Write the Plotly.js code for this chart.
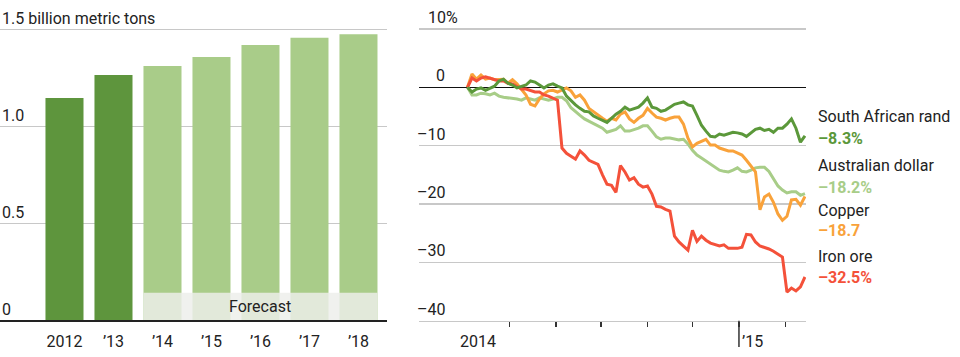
<!DOCTYPE html>
<html><head><meta charset="utf-8">
<script src="https://cdn.plot.ly/plotly-3.0.1.min.js"></script>
<style>html,body{margin:0;padding:0;background:#fff}#chart{width:960px;height:357px}</style>
</head><body><div id="chart"></div>
<script>
// ---- Left chart: iron ore production ----
const years = ['2012','’13','’14','’15','’16','’17','’18'];
const production = [1.144, 1.263, 1.309, 1.356, 1.418, 1.455, 1.473];
const isForecast = [false, false, true, true, true, true, true];
const prodTickVals = [0, 0.5, 1, 1.5];
const prodTickText = ['0', '0.5', '1.0', '1.5 billion metric tons'];
const forecastLabel = 'Forecast';

// ---- Right chart: % change ----
const dates = [
 '2014-07-04','2014-07-07','2014-07-10','2014-07-13','2014-07-16','2014-07-19','2014-07-22','2014-07-25','2014-07-28','2014-07-31',
 '2014-08-03','2014-08-06','2014-08-09','2014-08-12','2014-08-15','2014-08-18','2014-08-21','2014-08-24','2014-08-27','2014-08-30',
 '2014-09-02','2014-09-05','2014-09-08','2014-09-11','2014-09-14','2014-09-17','2014-09-20','2014-09-23','2014-09-26','2014-09-29',
 '2014-10-02','2014-10-05','2014-10-08','2014-10-11','2014-10-14','2014-10-17','2014-10-20','2014-10-23','2014-10-26','2014-10-29',
 '2014-11-01','2014-11-04','2014-11-07','2014-11-10','2014-11-13','2014-11-16','2014-11-19','2014-11-22','2014-11-25','2014-11-28',
 '2014-12-01','2014-12-04','2014-12-07','2014-12-10','2014-12-13','2014-12-16','2014-12-19','2014-12-22','2014-12-25','2014-12-28','2014-12-31',
 '2015-01-03','2015-01-06','2015-01-09','2015-01-12','2015-01-15','2015-01-18','2015-01-21','2015-01-24','2015-01-27','2015-01-30',
 '2015-02-02','2015-02-05','2015-02-08','2015-02-11','2015-02-14'
];
const randChg = [
 0, -0.8, -0.3, -0.1, -0.5, -0.1, 0.2, 1.1, 1.4, 0.7,
 0.4, -0.1, 0.1, 0.4, 1.1, 0.9, 0.4, -0.1, 0.4, 0.6,
 0.2, -0.1, -1.5, -2.3, -3.0, -3.6, -4.1, -4.2, -4.9, -5.3,
 -5.6, -6.0, -5.3, -4.6, -4.1, -3.4, -3.9, -3.7, -3.4, -2.7,
 -1.8, -3.4, -3.6, -4.1, -3.9, -3.4, -2.9, -2.7, -2.5, -3.0,
 -3.2, -4.8, -6.5, -7.5, -8.4, -8.5, -8.0, -8.2, -8.0, -7.7, -7.8,
 -8.0, -8.4, -7.8, -7.2, -7.0, -7.4, -7.2, -7.7, -7.0, -7.0,
 -6.3, -5.4, -7.0, -9.4, -8.3
];
const audChg = [
 0, -1.3, -1.3, -1.0, -1.1, -1.3, -1.0, -1.5, -1.7, -1.8,
 -1.8, -2.0, -2.2, -1.8, -2.0, -2.2, -1.8, -2.0, -2.2, -2.0,
 -1.7, -1.7, -2.3, -3.5, -4.2, -4.8, -5.4, -5.8, -6.3, -6.6,
 -7.0, -7.7, -7.5, -7.2, -6.6, -7.5, -7.5, -7.3, -7.0, -6.6,
 -6.6, -7.5, -8.5, -8.9, -8.7, -8.7, -8.9, -9.0, -8.9, -9.7,
 -10.8, -11.6, -12.1, -12.6, -13.1, -13.7, -14.2, -14.4, -14.5, -14.2, -13.8,
 -14.4, -14.5, -14.2, -13.8, -13.7, -13.7, -14.4, -15.7, -16.9, -17.6,
 -18.1, -17.9, -17.9, -18.5, -18.2
];
const copperChg = [
 0, 2.3, 1.4, 2.1, 1.4, 1.6, 1.3, 1.4, 1.4, 0.7,
 1.3, 0.6, -0.3, -1.3, -2.9, -3.2, -2.0, -1.1, -0.6, -0.5,
 -0.8, -0.5, -0.1, -0.6, -1.7, -1.3, -2.2, -3.6, -4.2, -4.8,
 -5.3, -5.8, -5.3, -5.6, -4.6, -4.2, -5.4, -6.0, -5.3, -4.8,
 -3.6, -4.4, -5.1, -5.3, -5.6, -5.3, -5.1, -5.1, -6.3, -8.7,
 -10.2, -9.6, -9.2, -8.9, -9.9, -9.9, -10.4, -10.6, -10.9, -10.9, -11.3,
 -11.6, -12.5, -13.5, -14.5, -21.0, -18.8, -18.3, -19.7, -21.7, -22.8,
 -22.1, -19.3, -19.2, -20.2, -18.7
];
const ironChg = [
 0, 1.6, 1.1, 1.6, 1.8, 1.6, 1.3, 1.1, 1.1, 0.7,
 0.6, 0.2, -0.3, -0.3, -0.5, -0.8, -0.8, -1.3, -1.5, -1.8,
 -2.2, -10.4, -11.3, -11.8, -12.3, -10.9, -11.6, -12.5, -12.8, -13.2,
 -15.0, -16.6, -16.8, -18.0, -13.4, -14.5, -15.9, -15.5, -16.6, -17.1,
 -16.9, -18.3, -20.4, -20.5, -20.9, -21.2, -25.5, -26.5, -27.2, -27.9,
 -24.5, -26.4, -25.5, -26.2, -26.7, -27.0, -27.2, -27.0, -27.6, -27.6, -27.6,
 -27.4, -25.2, -25.3, -26.5, -27.2, -27.4, -27.7, -28.1, -28.6, -29.1,
 -35.1, -34.4, -34.9, -34.2, -32.5
];
const seriesNames = ['South African rand', 'Australian dollar', 'Copper', 'Iron ore'];
const seriesEndLabels = ['–8.3%', '–18.2%', '–18.7', '–32.5%'];
const chgTickVals = [10, 0, -10, -20, -30, -40];
const chgTickText = ['10%', '0', '–10', '–20', '–30', '–40'];
const monthTicks = ['2014-08-01','2014-09-01','2014-10-01','2014-11-01','2014-12-01','2015-01-01','2015-02-01'];
const yearTickText = ['2014', '’15'];
const yearTickDates = ['2014-07-11', '2015-01-01'];

// ---- styles ----
const DARK = '#5e953d', LIGHT = '#a9cc89';
const seriesColors = ['#5b983a', '#a8cd88', '#f9a23a', '#f4513a'];
const TXT = '#222';
const PH = 357, PW = 960;
const py = px => (PH - px) / PH;
const pxX = px => px / PW;

const traces = [
  {type:'bar', x: years, y: production, xaxis:'x', yaxis:'y', width: 0.776,
   marker:{color: isForecast.map(f => f ? LIGHT : DARK), line:{width:0}}, hoverinfo:'skip'}
];
const seriesData = [randChg, audChg, copperChg, ironChg];
[1, 2, 3, 0].forEach(i => {
  traces.push({type:'scatter', mode:'lines', x: dates, y: seriesData[i], xaxis:'x2', yaxis:'y2',
    line:{color: seriesColors[i], width: 3}, hoverinfo:'skip'});
});

const annotations = [];
annotations.push({xref:'x', yref:'y', x: years[4], y: 0.072, text: forecastLabel, showarrow:false,
  font:{size:16, color:TXT}, xanchor:'center', yanchor:'middle'});
prodTickVals.forEach((v, i) => {
  annotations.push({xref:'paper', yref:'y', x: 0, y: v, text: prodTickText[i], showarrow:false,
    xanchor:'left', yanchor:'bottom', xshift: 0, yshift: -1, font:{size:16, color:TXT}});
});
chgTickVals.forEach((v, i) => {
  const pct = chgTickText[i].endsWith('%');
  annotations.push({xref:'paper', yref:'y2', x: pxX(447), y: v, text: chgTickText[i], showarrow:false,
    xanchor:'right', yanchor:'bottom', xshift: pct ? 13 : 0, font:{size:16, color:TXT}});
});
yearTickText.forEach((t, i) => {
  annotations.push({xref:'x2', yref:'paper', x: yearTickDates[i], y: py(341), text: t, showarrow:false,
    xanchor: i === 0 ? 'center' : 'left', xshift: i === 0 ? 0 : 1, yanchor:'middle', font:{size:16, color:TXT}});
});
const nameY = [117, 165, 210, 256];
const valY = [139, 187, 231, 277];
seriesNames.forEach((n, i) => {
  annotations.push({xref:'paper', yref:'paper', x: pxX(816), y: py(nameY[i]), text: n, showarrow:false,
    xanchor:'left', yanchor:'middle', font:{size:16, color:TXT}});
  annotations.push({xref:'paper', yref:'paper', x: pxX(816), y: py(valY[i]), text: '<b>' + seriesEndLabels[i] + '</b>', showarrow:false,
    xanchor:'left', yanchor:'middle', font:{size:16, color: seriesColors[i]}});
});

const layout = {
  width: PW, height: PH, margin:{l:0, r:0, t:0, b:0}, showlegend:false,
  paper_bgcolor:'#fff', plot_bgcolor:'rgba(0,0,0,0)',
  font:{family:'Roboto, sans-serif', size:16, color:TXT},
  xaxis:{domain:[0, pxX(387)], anchor:'y', type:'category', range:[-1.316, 6.582],
    showline:true, linecolor:'#222', linewidth:1.5, ticks:'', showgrid:false, zeroline:false,
    tickfont:{size:16, color:TXT}, ticklabelstandoff: 6},
  yaxis:{domain:[py(320), py(9.6)], anchor:'x', range:[0, 1.6], tickvals: prodTickVals,
    showticklabels:false, showgrid:true, gridcolor:'#c8c8c8', gridwidth:1, zeroline:false,
    showline:false, ticks:''},
  xaxis2:{domain:[pxX(419), pxX(806)], anchor:'y2', type:'date', range:['2014-06-01 16:00', '2015-02-14 16:48'],
    tickvals: monthTicks, showticklabels:false, ticks:'outside', ticklen:5, tickcolor:'#333', tickwidth:1.2,
    showline:true, linecolor:'#c8c8c8', linewidth:1.2, showgrid:false, zeroline:false},
  yaxis2:{domain:[py(320.7), py(26.1)], anchor:'x2', range:[-40, 10.5], tickvals: chgTickVals,
    showticklabels:false, showgrid:true, gridcolor:'#c8c8c8', gridwidth:1.2, zeroline:true,
    zerolinecolor:'#111', zerolinewidth:1.5, ticks:''},
  shapes:[
    {type:'rect', xref:'x', yref:'y', x0:1.612, x1:6.388, y0:0, y1:0.141,
     fillcolor:'rgba(237,238,235,0.83)', line:{width:0}, layer:'above'},
    {type:'line', xref:'x2', yref:'paper', x0: monthTicks[5], x1: monthTicks[5], y0: py(347), y1: py(320.7),
     line:{color:'#333', width:1.5}}
  ],
  annotations: annotations
};
Plotly.newPlot('chart', traces, layout, {staticPlot:true, displayModeBar:false});
</script></body></html>
